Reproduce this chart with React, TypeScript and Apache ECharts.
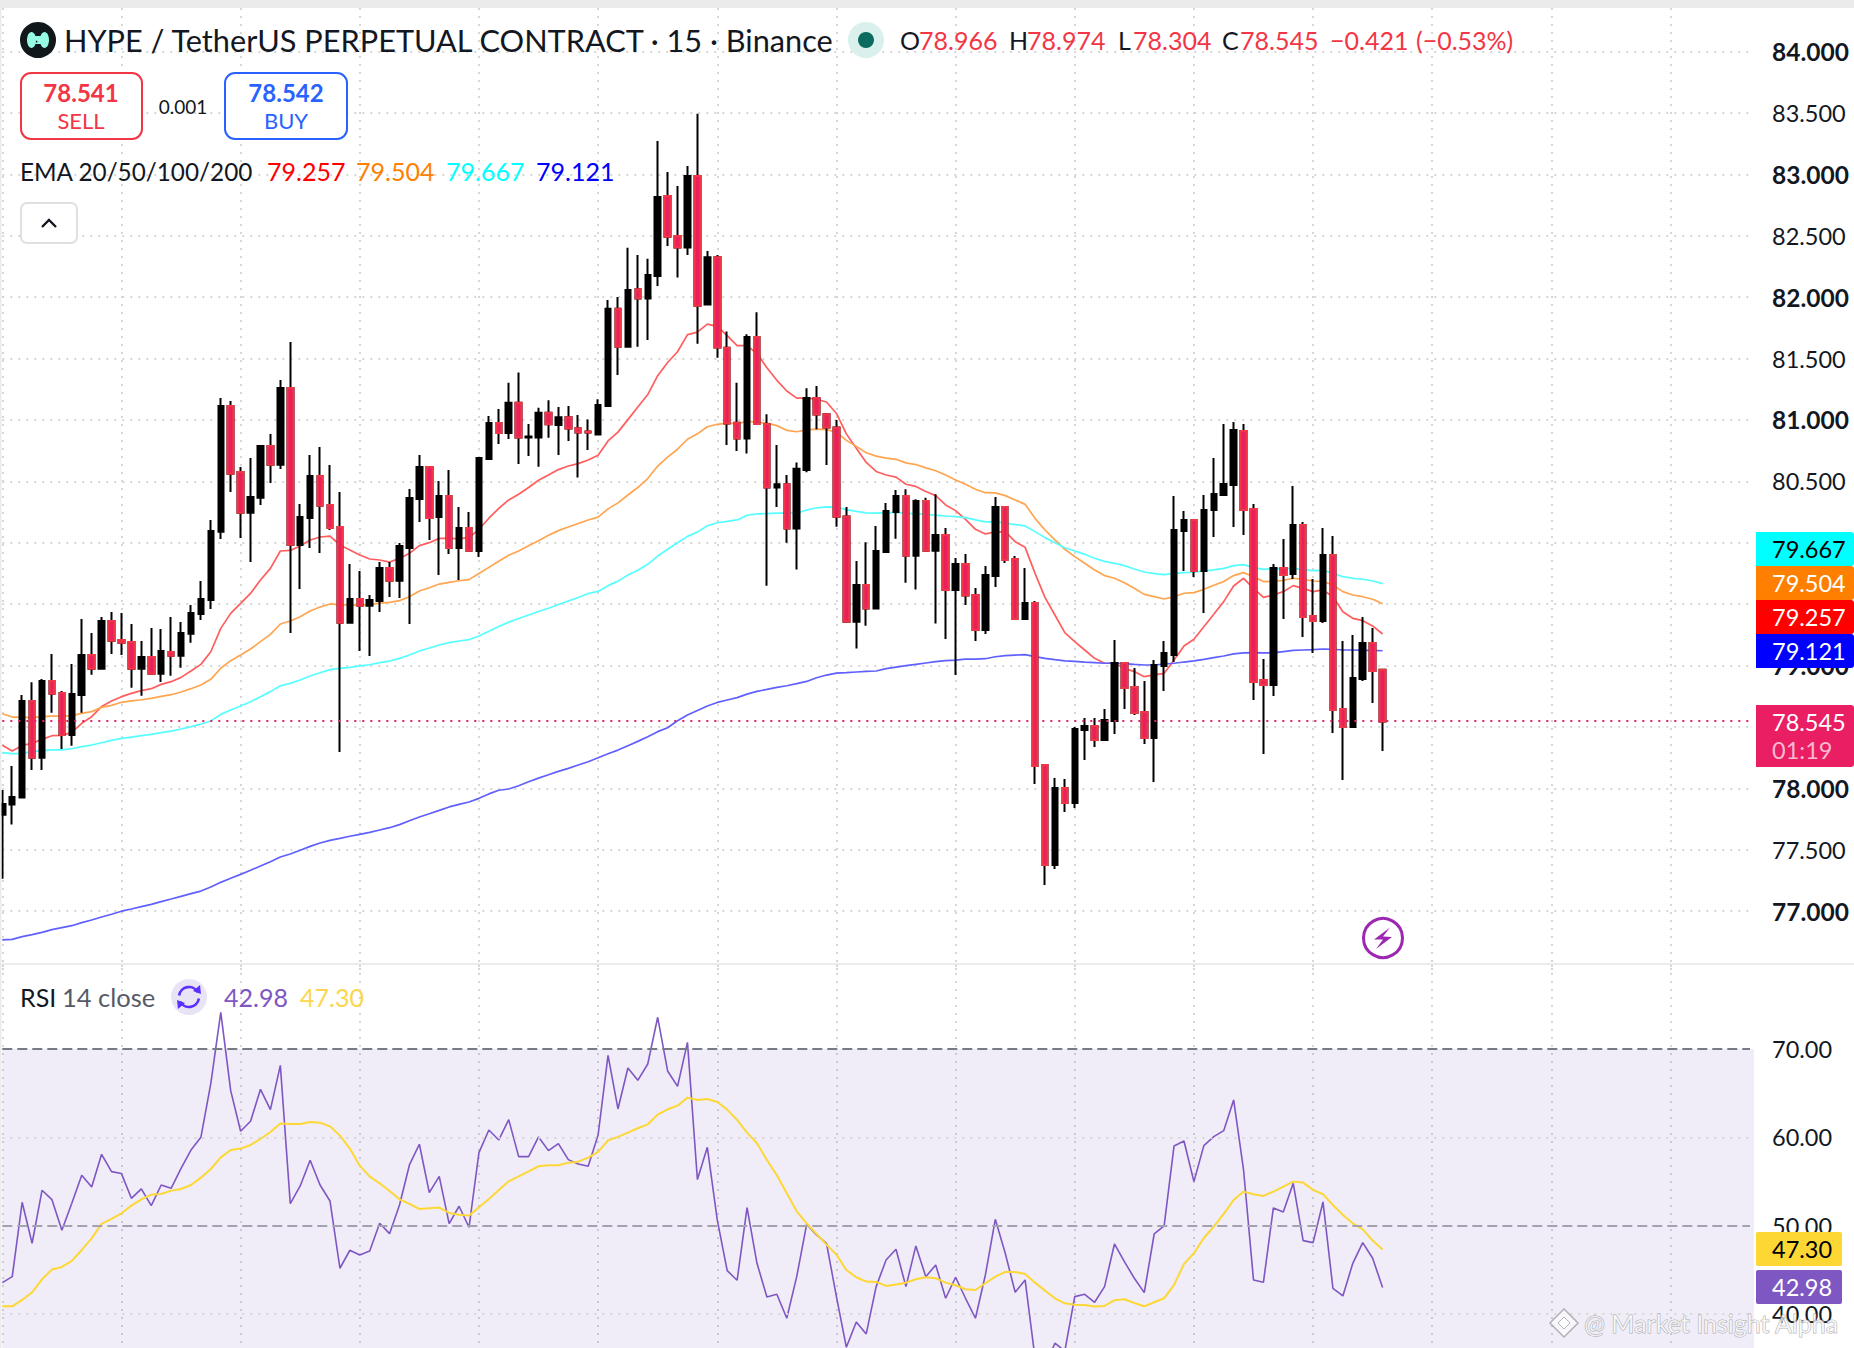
import React, { useEffect, useRef } from "react";
import * as echarts from "echarts";

const opens = [77.786,77.868,77.925,78.712,78.250,78.874,78.777,78.435,78.760,79.086,78.975,79.363,79.208,79.192,78.975,79.070,78.934,79.111,79.081,79.260,79.420,79.534,80.090,81.114,80.576,80.245,80.367,80.788,80.636,81.260,79.982,80.202,80.544,80.308,80.128,79.349,79.542,79.488,79.526,79.795,79.691,79.957,80.357,80.617,80.210,80.381,79.957,80.120,79.933,80.682,80.975,80.895,81.140,80.858,80.858,81.058,80.959,81.023,80.933,80.907,80.881,81.114,81.905,81.596,82.065,81.989,82.172,82.824,82.498,82.405,82.987,81.940,82.326,81.588,80.977,80.849,81.675,80.968,80.450,80.477,80.116,80.593,81.180,81.047,80.939,80.215,79.357,79.657,79.465,79.924,80.250,80.381,79.895,80.340,79.936,80.064,79.616,79.828,79.575,79.290,79.730,80.292,79.868,79.380,79.510,78.191,77.376,78.003,77.881,78.476,78.508,78.394,78.549,79.021,78.826,78.622,78.411,78.997,79.086,80.096,80.186,79.771,80.267,80.389,80.471,80.911,80.275,78.883,78.842,79.795,79.746,80.145,79.404,79.363,79.901,78.647,78.500,78.891,79.184,78.966];
const closes = [77.873,77.930,78.712,78.250,78.874,78.771,78.435,78.769,79.086,78.975,79.363,79.203,79.187,78.975,79.070,78.934,79.119,79.081,79.265,79.428,79.542,80.096,81.114,80.563,80.245,80.373,80.788,80.636,81.260,79.985,80.210,80.544,80.302,80.120,79.349,79.542,79.488,79.534,79.795,79.691,79.974,80.365,80.617,80.202,80.381,79.957,80.120,79.936,80.690,80.975,80.894,81.140,80.858,80.866,81.058,80.965,81.023,80.930,80.898,80.898,81.122,81.905,81.596,82.059,81.989,82.181,82.815,82.492,82.405,82.987,81.931,82.326,81.591,80.971,80.849,81.675,80.968,80.450,80.477,80.116,80.602,81.180,81.044,80.939,80.212,79.357,79.657,79.465,79.933,80.259,80.381,79.895,80.340,79.936,80.064,79.616,79.828,79.570,79.290,79.738,80.292,79.860,79.380,79.510,78.183,77.376,78.003,77.881,78.484,78.508,78.394,78.557,79.021,78.818,78.614,78.411,79.005,79.103,80.104,80.186,79.771,80.267,80.398,80.479,80.919,80.267,78.867,78.842,79.795,79.738,80.145,79.396,79.363,79.901,78.639,78.500,78.899,79.184,78.956,78.545];
const lows = [77.265,77.705,77.925,78.150,78.150,78.617,78.321,78.348,78.617,78.926,78.975,79.094,79.086,78.820,78.755,78.934,78.866,78.918,78.983,79.187,79.371,79.461,80.031,80.413,80.039,79.843,80.308,80.487,80.601,79.265,79.624,79.957,79.917,80.104,78.296,79.349,79.119,79.078,79.436,79.558,79.550,79.339,80.169,80.023,79.738,79.909,79.697,79.936,79.884,80.682,80.804,80.846,80.642,80.706,80.619,80.855,80.715,80.829,80.532,80.756,80.881,81.114,81.367,81.596,81.596,81.652,82.091,82.417,82.161,82.344,81.620,81.940,81.506,80.797,80.747,80.727,80.968,79.651,80.291,80.000,79.782,80.575,80.925,80.634,80.131,79.357,79.139,79.325,79.465,79.918,80.032,79.674,79.619,79.936,79.342,79.217,78.924,79.494,79.201,79.257,79.640,79.836,79.380,79.380,78.036,77.214,77.344,77.808,77.841,78.231,78.337,78.386,78.443,78.647,78.598,78.362,78.052,78.793,79.029,79.771,79.722,79.428,80.047,80.381,80.129,80.064,78.720,78.280,78.753,79.380,79.705,79.233,79.103,79.347,78.451,78.069,78.500,78.875,78.696,78.304];
const highs = [77.987,78.182,78.761,78.864,78.891,79.094,78.793,79.013,79.379,79.265,79.396,79.436,79.428,79.339,79.200,79.306,79.298,79.396,79.355,79.493,79.689,80.185,81.179,81.155,80.617,80.690,80.796,80.886,81.326,81.635,80.316,80.715,80.780,80.633,80.413,79.827,79.770,79.575,79.843,79.843,79.998,80.438,80.715,80.617,80.503,80.593,80.291,80.251,80.698,81.032,81.089,81.303,81.387,80.968,81.099,81.160,81.105,81.114,81.041,81.003,81.169,81.977,82.001,82.402,82.344,82.312,83.272,83.019,82.905,83.068,83.493,82.376,82.344,81.721,81.303,81.698,81.878,81.047,80.797,80.552,80.654,81.259,81.276,81.047,81.000,80.291,79.851,80.005,80.136,80.323,80.430,80.436,80.355,80.366,80.395,80.121,79.876,79.909,79.632,79.811,80.373,80.292,79.893,79.795,79.526,78.191,78.085,78.077,78.500,78.573,78.573,78.647,79.209,79.021,78.981,78.875,79.046,79.201,80.381,80.259,80.186,80.389,80.691,80.968,80.984,80.968,80.316,79.054,79.828,80.031,80.463,80.170,79.705,80.121,80.056,79.201,79.249,79.396,79.306,78.974];

const ema20 = [78.351,78.304,78.350,78.367,78.399,78.429,78.432,78.456,78.530,78.584,78.666,78.711,78.747,78.774,78.796,78.812,78.847,78.869,78.904,78.956,79.010,79.113,79.303,79.425,79.507,79.588,79.697,79.792,79.933,79.938,79.974,80.023,80.047,80.055,79.982,79.941,79.900,79.868,79.860,79.843,79.873,79.914,79.977,80.001,80.036,80.036,80.033,80.042,80.110,80.200,80.280,80.349,80.395,80.450,80.509,80.552,80.596,80.625,80.645,80.674,80.712,80.829,80.901,81.003,81.105,81.207,81.361,81.468,81.556,81.695,81.716,81.780,81.762,81.687,81.605,81.605,81.541,81.425,81.323,81.236,81.178,81.178,81.169,81.146,81.053,80.887,80.770,80.654,80.581,80.552,80.535,80.477,80.459,80.418,80.384,80.308,80.262,80.191,80.110,80.072,80.088,80.091,80.009,79.963,79.751,79.556,79.412,79.268,79.195,79.127,79.059,79.019,79.019,78.978,78.951,78.910,78.924,78.937,79.046,79.160,79.214,79.317,79.418,79.521,79.648,79.711,79.629,79.556,79.575,79.602,79.651,79.629,79.602,79.616,79.561,79.439,79.385,79.366,79.323,79.257];
const ema50 = [78.608,78.581,78.581,78.576,78.584,78.589,78.589,78.592,78.611,78.625,78.660,78.676,78.701,78.712,78.722,78.733,78.750,78.763,78.785,78.812,78.842,78.888,78.978,79.040,79.086,79.135,79.195,79.254,79.339,79.363,79.398,79.444,79.477,79.502,79.496,79.493,79.493,79.496,79.509,79.515,79.529,79.561,79.607,79.634,79.664,79.678,79.691,79.700,79.750,79.800,79.850,79.898,79.933,79.976,80.017,80.061,80.099,80.128,80.157,80.186,80.209,80.276,80.325,80.389,80.450,80.523,80.625,80.698,80.762,80.843,80.887,80.945,80.965,80.974,80.971,80.989,80.983,80.974,80.954,80.916,80.904,80.919,80.925,80.922,80.901,80.834,80.785,80.733,80.706,80.689,80.680,80.651,80.637,80.610,80.587,80.552,80.512,80.476,80.436,80.408,80.406,80.384,80.349,80.313,80.199,80.104,80.023,79.947,79.887,79.833,79.779,79.733,79.711,79.675,79.629,79.580,79.561,79.542,79.561,79.589,79.594,79.621,79.654,79.684,79.733,79.757,79.724,79.684,79.686,79.694,79.711,79.703,79.689,79.686,79.656,79.602,79.575,79.561,79.540,79.504];
const ema100 = [78.291,78.283,78.285,78.299,78.307,78.313,78.313,78.323,78.340,78.353,78.372,78.391,78.407,78.418,78.429,78.440,78.454,78.467,78.484,78.503,78.524,78.549,78.603,78.638,78.671,78.706,78.747,78.788,78.836,78.855,78.883,78.915,78.942,78.967,78.978,78.986,78.997,79.007,79.024,79.037,79.059,79.086,79.119,79.143,79.168,79.187,79.200,79.211,79.241,79.280,79.318,79.354,79.383,79.412,79.441,79.467,79.497,79.526,79.555,79.587,79.604,79.651,79.688,79.738,79.776,79.825,79.892,79.947,80.000,80.052,80.087,80.139,80.163,80.174,80.186,80.224,80.235,80.238,80.241,80.241,80.241,80.267,80.285,80.293,80.290,80.270,80.256,80.244,80.241,80.244,80.247,80.241,80.235,80.232,80.226,80.218,80.213,80.205,80.186,80.170,80.172,80.159,80.148,80.137,80.091,80.042,80.001,79.960,79.933,79.906,79.874,79.849,79.833,79.814,79.787,79.762,79.749,79.741,79.751,79.757,79.760,79.771,79.779,79.792,79.814,79.822,79.798,79.784,79.790,79.787,79.792,79.781,79.773,79.776,79.751,79.724,79.711,79.703,79.689,79.667];
const ema200 = [76.766,76.771,76.793,76.809,76.828,76.850,76.866,76.882,76.907,76.928,76.953,76.975,77.000,77.018,77.037,77.056,77.078,77.099,77.121,77.143,77.164,77.197,77.235,77.268,77.300,77.333,77.368,77.403,77.441,77.466,77.496,77.528,77.555,77.577,77.593,77.610,77.626,77.642,77.661,77.680,77.705,77.737,77.767,77.794,77.821,77.849,77.870,77.889,77.919,77.955,77.985,77.995,78.022,78.054,78.084,78.111,78.139,78.163,78.190,78.217,78.250,78.282,78.312,78.348,78.383,78.421,78.462,78.494,78.551,78.597,78.635,78.671,78.700,78.720,78.739,78.768,78.790,78.806,78.823,78.836,78.853,78.871,78.901,78.923,78.939,78.942,78.948,78.953,78.956,78.975,78.988,78.999,79.010,79.021,79.032,79.040,79.045,79.053,79.053,79.056,79.072,79.081,79.086,79.089,79.073,79.059,79.048,79.038,79.035,79.029,79.024,79.019,79.019,79.016,79.010,79.005,79.005,79.013,79.019,79.029,79.038,79.051,79.065,79.078,79.095,79.103,79.105,79.103,79.103,79.114,79.124,79.127,79.130,79.135,79.133,79.127,79.127,79.124,79.124,79.121];

const rsi = [43.54,44.22,52.64,48.00,54.00,52.94,49.47,52.53,55.70,54.38,58.07,56.11,55.89,53.09,54.15,52.26,54.60,54.22,56.49,58.56,60.00,66.11,74.15,65.28,60.68,61.81,65.43,63.13,68.15,52.49,54.49,57.40,54.60,52.79,45.17,47.21,46.68,47.13,50.26,49.09,52.34,56.87,59.21,53.73,55.58,50.22,52.19,49.81,58.26,60.83,59.70,62.00,57.81,57.81,60.04,58.49,59.28,57.47,56.98,56.72,60.26,69.28,63.21,67.85,66.45,68.30,73.59,67.51,65.77,70.75,55.21,58.87,50.64,44.90,43.81,52.04,45.73,41.92,42.22,39.51,44.22,50.15,48.94,48.00,41.96,36.22,39.09,37.73,43.09,46.11,47.32,43.09,47.70,44.22,45.54,41.77,44.15,41.77,39.51,44.41,50.71,46.87,42.45,43.85,35.00,34.00,36.68,35.80,41.96,42.22,41.32,43.09,47.92,45.92,44.04,42.41,49.05,49.96,59.02,59.58,54.98,59.06,60.07,60.75,64.23,56.30,43.85,43.58,52.00,51.55,54.79,48.30,48.07,52.68,42.90,42.03,45.73,48.07,46.30,42.98];
const rsiMa = [40.86,40.86,41.58,42.45,43.92,45.02,45.32,46.00,47.24,48.56,50.19,50.75,51.39,52.26,52.98,53.51,53.58,53.96,54.15,54.60,55.43,56.41,57.73,58.56,58.72,59.13,59.81,60.60,61.55,61.51,61.51,61.73,61.66,61.24,60.19,58.72,56.79,55.55,54.79,53.92,52.98,52.45,51.88,51.96,52.04,51.43,51.24,51.13,52.07,53.02,54.04,55.02,55.58,56.15,56.72,56.83,56.83,57.13,57.24,57.70,58.34,59.66,60.04,60.53,61.02,61.47,62.57,63.17,63.58,64.49,64.23,64.34,64.00,63.13,61.96,60.53,59.32,57.43,55.70,53.66,51.62,50.26,49.05,47.85,46.71,44.98,44.15,43.66,43.62,43.17,43.32,43.54,43.92,44.15,44.04,43.54,43.24,42.79,42.71,43.47,44.22,44.75,44.75,44.53,43.54,42.64,41.77,41.20,41.05,41.00,40.83,40.90,41.55,41.66,41.24,40.86,41.32,41.77,43.28,45.66,46.87,48.60,49.88,51.32,52.90,53.85,53.55,53.36,53.85,54.41,54.98,54.87,54.04,53.55,52.34,51.21,50.26,49.58,48.30,47.30];

const rsiTicks = [40, 50, 60, 70];
const priceMin = 76.5;
const priceMax = 84.42;
const rsiMin = 36.14;
const rsiMax = 79.51;

const FONT = "Lato";
const TOTAL_SLOTS = 177;
const slotLabels = Array.from({ length: TOTAL_SLOTS }, (_, i) => String(i));
const lastPrice = 78.545;

const T = (text: string, x: number, y: number, fill: string, fontSize: number, extra: any = {}) => ({
  type: "text",
  z: 100,
  silent: true,
  style: { text, x, y, fill, fontSize, fontFamily: FONT, textVerticalAlign: "middle", textAlign: "left", ...extra },
});
const R = (x: number, y: number, width: number, height: number, style: any, r: any = 0) => ({
  type: "rect",
  z: 90,
  silent: true,
  shape: { x, y, width, height, r },
  style,
});

const GRID = "#d6d6d6";
const xAxisBase = (gridIndex: number) => ({
  type: "category" as const,
  gridIndex,
  data: slotLabels,
  boundaryGap: false,
  axisLine: { show: false },
  axisTick: { show: false },
  axisLabel: { show: false },
  splitLine: {
    show: true,
    interval: (i: number) => i % 12 === 0,
    lineStyle: { color: GRID, type: [2, 6], width: 2 },
  },
});

const option: any = {
  animation: false,
  backgroundColor: "#ffffff",
  grid: [
    { left: 2.3, top: 0, width: 1747.7, height: 972.6 },
    { left: 2.3, top: 965, width: 1747.7, height: 383 },
  ],
  xAxis: [xAxisBase(0), xAxisBase(1)],
  yAxis: [
    {
      type: "value",
      gridIndex: 0,
      position: "right",
      min: priceMin,
      max: priceMax,
      interval: 0.5,
      axisLine: { show: false },
      axisTick: { show: false },
      axisLabel: {
        margin: 22,
        showMinLabel: false,
        showMaxLabel: false,
        color: "#131722",
        fontFamily: FONT,
        fontSize: 23.5,
        formatter: (v: number) => (Number.isInteger(v) ? `{b|${v.toFixed(3)}}` : v.toFixed(3)),
        rich: { b: { fontWeight: "bold", fontSize: 24.5, fontFamily: FONT, color: "#131722" } },
      },
      splitLine: { show: true, showMinLine: false, showMaxLine: false, lineStyle: { color: GRID, type: [2, 6], width: 2 } },
    },
    {
      type: "value",
      gridIndex: 1,
      position: "right",
      min: rsiMin,
      max: rsiMax,
      axisLine: { show: false },
      axisTick: { show: false },
      axisLabel: {
        margin: 22,
        customValues: rsiTicks,
        color: "#131722",
        fontFamily: FONT,
        fontSize: 23.5,
        formatter: (v: number) => v.toFixed(2),
      },
      splitLine: { show: false },
    },
  ],
  series: [
    ...[
      ["EMA 20", ema20, "#ff5e5e"],
      ["EMA 50", ema50, "#ffa550"],
      ["EMA 100", ema100, "#55ffff"],
      ["EMA 200", ema200, "#6060ff"],
    ].map(([name, data, color]: any) => ({
      name,
      type: "line",
      xAxisIndex: 0,
      yAxisIndex: 0,
      data,
      z: 1,
      symbol: "none",
      lineStyle: { color, width: 1.7 },
    })),
    {
      name: "Candles",
      type: "candlestick",
      xAxisIndex: 0,
      yAxisIndex: 0,
      z: 2,
      barWidth: 6,
      clip: false,
      data: opens.map((o, i) => [o, closes[i], lows[i], highs[i]]),
      itemStyle: { color: "#000000", color0: "#000000", borderColor: "#000000", borderColor0: "#000000", borderWidth: 2 },
    },
    {
      name: "Falling bodies",
      type: "candlestick",
      xAxisIndex: 0,
      yAxisIndex: 0,
      z: 3,
      barWidth: 6,
      clip: false,
      data: opens.map((o, i) => (closes[i] < o ? [o, closes[i], closes[i], o] : ["-", "-", "-", "-"])),
      itemStyle: { color: "#ea205c", color0: "#ea205c", borderColor: "#f23645", borderColor0: "#f23645", borderWidth: 2 },
    },
    {
      name: "Last price",
      type: "line",
      xAxisIndex: 0,
      yAxisIndex: 0,
      z: 5,
      data: [],
      markLine: {
        silent: true,
        symbol: "none",
        label: { show: false },
        lineStyle: { color: "#e91e63", type: [2, 6], width: 2 },
        data: [{ yAxis: lastPrice }],
      },
    },
    {
      name: "RSI",
      type: "line",
      xAxisIndex: 1,
      yAxisIndex: 1,
      data: rsi,
      z: 3,
      symbol: "none",
      lineStyle: { color: "#7e57c2", width: 1.6 },
      markArea: {
        silent: true,
        itemStyle: { color: "rgba(126,87,194,0.115)" },
        data: [[{ yAxis: rsiMin }, { yAxis: 70 }]],
      },
      markLine: {
        silent: true,
        symbol: "none",
        label: { show: false },
        data: [
          { yAxis: 70, lineStyle: { color: "#787b86", type: [10, 5], width: 2 } },
          { yAxis: 50, lineStyle: { color: "#a5a2b0", type: [10, 5], width: 2 } },
          { yAxis: 60, lineStyle: { color: GRID, type: [2, 6], width: 2 } },
          { yAxis: 40, lineStyle: { color: GRID, type: [2, 6], width: 2 } },
        ],
      },
    },
    {
      name: "RSI MA",
      type: "line",
      xAxisIndex: 1,
      yAxisIndex: 1,
      data: rsiMa,
      z: 4,
      symbol: "none",
      lineStyle: { color: "#fdd835", width: 2 },
    },
  ],
  graphic: {
    elements: [
      // frame
      R(0, 0, 1854, 8, { fill: "#ebebeb" }),
      R(0, 0, 1.5, 1348, { fill: "#ebebeb" }),
      R(0, 963, 1854, 2, { fill: "#ebebeb" }),
      R(1750, 1049, 4, 299, { fill: "rgba(126,87,194,0.115)" }),

      // symbol logo
      { type: "circle", z: 95, silent: true, shape: { cx: 38, cy: 40, r: 18 }, style: { fill: "#10181c" } },
      { type: "ellipse", z: 96, silent: true, shape: { cx: 31.5, cy: 40, rx: 4.5, ry: 8 }, style: { fill: "#97fce4" } },
      { type: "ellipse", z: 96, silent: true, shape: { cx: 44.5, cy: 40, rx: 4.5, ry: 8 }, style: { fill: "#97fce4" } },
      { type: "polygon", z: 96, silent: true, shape: { points: [[31, 36], [45, 36], [45, 44], [31, 44], [38, 42]] }, style: { fill: "#97fce4" } },
      T("HYPE / TetherUS PERPETUAL CONTRACT · 15 · Binance", 64, 40, "#131722", 30.7),
      { type: "circle", z: 95, silent: true, shape: { cx: 866, cy: 40, r: 18 }, style: { fill: "#d9f0ec" } },
      { type: "circle", z: 96, silent: true, shape: { cx: 866, cy: 40, r: 8 }, style: { fill: "#0b6b5e" } },
      T("O", 900, 40, "#131722", 25),
      T("78.966", 919, 40, "#f23645", 25),
      T("H", 1009, 40, "#131722", 25),
      T("78.974", 1027, 40, "#f23645", 25),
      T("L", 1118, 40, "#131722", 25),
      T("78.304", 1133, 40, "#f23645", 25),
      T("C", 1222, 40, "#131722", 25),
      T("78.545", 1240, 40, "#f23645", 25),
      T("−0.421", 1330, 40, "#f23645", 25),
      T("(−0.53%)", 1416, 40, "#f23645", 25),

      // sell / buy
      R(21, 73, 121, 66, { fill: "#ffffff", stroke: "#f23645", lineWidth: 2 }, 10),
      T("78.541", 81, 92, "#f23645", 24, { textAlign: "center", fontWeight: "bold" }),
      T("SELL", 81, 120, "#f23645", 22, { textAlign: "center" }),
      T("0.001", 183, 106, "#131722", 19, { textAlign: "center" }),
      R(225, 73, 122, 66, { fill: "#ffffff", stroke: "#2962ff", lineWidth: 2 }, 10),
      T("78.542", 286, 92, "#2962ff", 24, { textAlign: "center", fontWeight: "bold" }),
      T("BUY", 286, 120, "#2962ff", 22, { textAlign: "center" }),

      // EMA legend
      T("EMA 20/50/100/200", 20, 171, "#131722", 24.3),
      T("79.257", 267, 171, "#ff0000", 25),
      T("79.504", 356, 171, "#ff8000", 25),
      T("79.667", 446, 171, "#00ffff", 25),
      T("79.121", 536, 171, "#0000ff", 25),
      R(21, 203, 56, 40, { fill: "#ffffff", stroke: "#e0e0e0", lineWidth: 2 }, 6),
      { type: "polyline", z: 96, silent: true, shape: { points: [[42, 227], [49, 220], [56, 227]] }, style: { stroke: "#131722", lineWidth: 2.4, fill: "none" } },

      // price tags
      R(1756, 532, 98, 34, { fill: "#00ffff" }, [0, 3, 3, 0]),
      T("79.667", 1772, 549, "#000000", 23.5),
      R(1756, 566, 98, 34, { fill: "#ff8000" }, [0, 3, 3, 0]),
      T("79.504", 1772, 583, "#ffffff", 23.5),
      R(1756, 600, 98, 34, { fill: "#ff0000" }, [0, 3, 3, 0]),
      T("79.257", 1772, 617, "#ffffff", 23.5),
      R(1756, 634, 98, 34, { fill: "#0000ff" }, [0, 3, 3, 0]),
      T("79.121", 1772, 651, "#ffffff", 23.5),
      R(1756, 705, 98, 62, { fill: "#e91e63" }, [0, 3, 3, 0]),
      T("78.545", 1772, 722, "#ffffff", 23.5),
      T("01:19", 1772, 750, "#f8bbd0", 23.5),

      // flash icon
      { type: "circle", z: 96, silent: true, shape: { cx: 1383, cy: 938, r: 19.5 }, style: { fill: "#ffffff", stroke: "#9c27b0", lineWidth: 3 } },
      { type: "polygon", z: 97, silent: true, shape: { points: [[1390, 927.5], [1374, 939.5], [1383, 939.5], [1376, 949], [1392, 937], [1383, 936.5]] }, style: { fill: "#9c27b0" } },

      // RSI legend
      T("RSI", 20, 997, "#131722", 25),
      T("14 close", 62, 997, "#555a66", 25.5),
      { type: "circle", z: 95, silent: true, shape: { cx: 189, cy: 997, r: 18 }, style: { fill: "#e8e4f6" } },
      { type: "arc", z: 96, silent: true, shape: { cx: 189, cy: 997, r: 10, startAngle: Math.PI * 1.05, endAngle: Math.PI * 1.85 }, style: { stroke: "#5b2fff", lineWidth: 2.6, fill: "none" } },
      { type: "arc", z: 96, silent: true, shape: { cx: 189, cy: 997, r: 10, startAngle: Math.PI * 0.05, endAngle: Math.PI * 0.85 }, style: { stroke: "#5b2fff", lineWidth: 2.6, fill: "none" } },
      { type: "polygon", z: 96, silent: true, shape: { points: [[200, 985], [201, 994], [193, 991]] }, style: { fill: "#5b2fff" } },
      { type: "polygon", z: 96, silent: true, shape: { points: [[178, 1009], [177, 1000], [185, 1003]] }, style: { fill: "#5b2fff" } },
      T("42.98", 224, 997, "#7e57c2", 25),
      T("47.30", 300, 997, "#fdd54f", 25),

      // RSI tags
      R(1756, 1232, 86, 34, { fill: "#fdd835" }, 2),
      T("47.30", 1772, 1249, "#000000", 23.5),
      R(1756, 1270, 86, 34, { fill: "#7e57c2" }, 2),
      T("42.98", 1772, 1287, "#ffffff", 23.5),

      // watermark
      { type: "polygon", z: 98, silent: true, shape: { points: [[1564, 1309], [1578, 1323], [1564, 1337], [1550, 1323]] }, style: { fill: "rgba(255,255,255,0.6)", stroke: "rgba(150,150,150,0.7)", lineWidth: 1.5 } },
      { type: "polygon", z: 98, silent: true, shape: { points: [[1564, 1317], [1570, 1323], [1564, 1329], [1558, 1323]] }, style: { fill: "rgba(255,255,255,0.7)", stroke: "rgba(150,150,150,0.7)", lineWidth: 1 } },
      T("@ Market Insight Alpha", 1584, 1323, "rgba(255,255,255,0.72)", 25, { stroke: "rgba(140,140,140,0.7)", lineWidth: 1 }),
    ],
  },
};

export default function App() {
  const ref = useRef<HTMLDivElement>(null);
  useEffect(() => {
    const chart = echarts.init(ref.current!, undefined, { renderer: "svg" });
    chart.setOption(option);
    return () => chart.dispose();
  }, []);
  return <div ref={ref} style={{ position: "absolute", left: 0, top: 0, width: 1854, height: 1348 }} />;
}
